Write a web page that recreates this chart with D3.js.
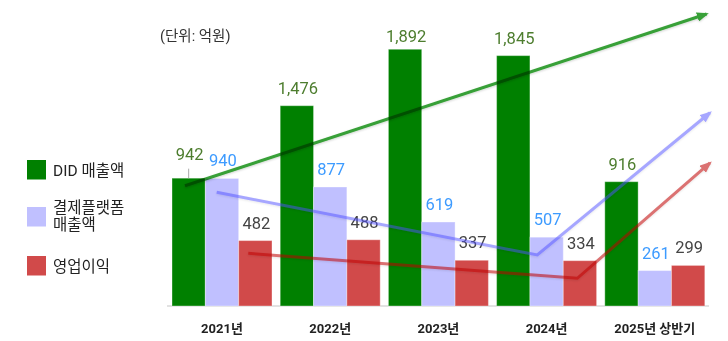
<!DOCTYPE html>
<html lang="ko">
<head>
<meta charset="utf-8">
<script src="https://cdn.jsdelivr.net/npm/d3@7"></script>
<style>
  html, body { margin: 0; padding: 0; background: #fff; }
  svg { display: block; font-family: Roboto, "Noto Sans CJK KR", "Noto Sans", sans-serif; }
</style>
</head>
<body>
<svg id="chart" width="728" height="341"></svg>
<script>
// Yearly figures (unit: 100M KRW)
const categories = ["2021년", "2022년", "2023년", "2024년", "2025년 상반기"];
const seriesNames = ["DID 매출액", "결제플랫폼 매출액", "영업이익"];
const didSales = [942, 1476, 1892, 1845, 916];
const paymentSales = [940, 877, 619, 507, 261];
const operatingProfit = [482, 488, 337, 334, 299];
const unitLabel = "(단위: 억원)";

// Trend arrows: pos = position in group steps from the first group, v = value
const didTrend = [{ pos: 0.12, v: 886 }, { pos: 4.94, v: 2152 }];
const paymentTrend = [{ pos: 0.413, v: 838 }, { pos: 3.376, v: 376 }, { pos: 4.972, v: 1424 }];
const profitTrend = [{ pos: 0.705, v: 388 }, { pos: 3.746, v: 204 }, { pos: 4.972, v: 1054 }];

const seriesValues = [didSales, paymentSales, operatingProfit];
const barColors = ["#008000", "#c0c0ff", "#d14a4a"];
const labelColors = ["#4d7d2e", "#3d9bff", "#444444"];

const svg = d3.select("#chart");

const x = d3.scaleBand().domain(categories).range([172, 704.8]).paddingInner(0.0758).paddingOuter(0);
const xSeries = d3.scaleBand().domain(d3.range(seriesNames.length)).range([0, x.bandwidth()]).padding(0);
const y = d3.scaleLinear().domain([0, 2000]).range([306, 34.6]);
const xPos = p => x(categories[0]) + p * x.step();

// Baseline
svg.append("line")
  .attr("x1", 167).attr("x2", 709)
  .attr("y1", y(0)).attr("y2", y(0))
  .attr("stroke", "#d9d9d9").attr("stroke-width", 1.5);

// Bars
const groups = svg.selectAll("g.group")
  .data(categories)
  .join("g").attr("class", "group")
  .attr("transform", d => `translate(${x(d)},0)`);

groups.selectAll("rect")
  .data((c, i) => seriesValues.map((vals, s) => ({ s, v: vals[i] })))
  .join("rect")
  .attr("x", d => xSeries(d.s))
  .attr("width", xSeries.bandwidth())
  .attr("y", d => y(d.v))
  .attr("height", d => y(0) - y(d.v))
  .attr("fill", d => barColors[d.s])
  .attr("stroke", "rgba(255,255,255,0.35)")
  .attr("stroke-width", 1);

// Value labels (kept below the top edge; nudged up when a neighbour has nearly the same height)
const fmt = d3.format(",");
const labelGap = 12;
const labelTop = 42;
groups.each(function (c, i) {
  const g = d3.select(this);
  seriesValues.forEach((vals, s) => {
    const v = vals[i];
    let by = Math.max(y(v) - labelGap, labelTop);
    const next = seriesValues[s + 1];
    let lifted = false;
    if (next && Math.abs(next[i] - v) / v < 0.01) { by -= 6; lifted = true; }
    const cx = xSeries(s) + xSeries.bandwidth() / 2;
    if (lifted) {
      g.append("line")
        .attr("x1", cx).attr("x2", cx)
        .attr("y1", by + 8.5).attr("y2", y(v))
        .attr("stroke", "#aaaaaa").attr("stroke-width", 1);
    }
    g.append("text")
      .attr("x", cx + 1).attr("y", by)
      .attr("text-anchor", "middle")
      .attr("font-size", 16.5)
      .attr("fill", labelColors[s])
      .text(fmt(v));
  });
});

// Category labels
svg.selectAll("text.cat")
  .data(categories)
  .join("text").attr("class", "cat")
  .attr("x", d => x(d) + x.bandwidth() / 2)
  .attr("y", 332.5)
  .attr("text-anchor", "middle")
  .attr("font-size", 13)
  .attr("font-weight", "bold")
  .attr("fill", "#222")
  .text(d => d);

// Unit label
svg.append("text")
  .attr("x", 160).attr("y", 41)
  .attr("font-size", 14.5)
  .attr("fill", "#333")
  .text(unitLabel);

// Trend arrows
const defs = svg.append("defs");
defs.append("filter").attr("id", "soft")
  .attr("x", "-5%").attr("y", "-20%").attr("width", "110%").attr("height", "140%")
  .append("feDropShadow")
  .attr("dx", 0).attr("dy", 1).attr("stdDeviation", 1)
  .attr("flood-color", "#000").attr("flood-opacity", 0.18);

const trends = [
  { pts: didTrend, color: "rgb(55,160,55)", blend: "multiply", opacity: 1, id: "arrowDid" },
  { pts: paymentTrend, color: "rgb(80,80,255)", blend: "normal", opacity: 0.5, id: "arrowPay" },
  { pts: profitTrend, color: "rgb(190,0,0)", blend: "normal", opacity: 0.55, id: "arrowProfit" }
];

trends.forEach(t => {
  defs.append("marker")
    .attr("id", t.id)
    .attr("viewBox", "0 0 10 8")
    .attr("refX", 8).attr("refY", 4)
    .attr("markerWidth", 12).attr("markerHeight", 9.6)
    .attr("markerUnits", "userSpaceOnUse")
    .attr("orient", "auto")
    .append("path")
    .attr("d", "M0,0 L10,4 L0,8 Z")
    .attr("fill", t.color);
});

const line = d3.line().x(d => xPos(d.pos)).y(d => y(d.v));
trends.forEach(t => {
  svg.append("path")
    .datum(t.pts)
    .attr("d", line)
    .attr("fill", "none")
    .attr("stroke", t.color)
    .attr("stroke-width", 3)
    .attr("stroke-linejoin", "miter")
    .attr("opacity", t.opacity)
    .attr("marker-end", `url(#${t.id})`)
    .attr("filter", "url(#soft)")
    .style("mix-blend-mode", t.blend);
});

// Legend
const legend = svg.append("g");
const legendItems = [
  { s: 0, top: 160, lines: ["DID 매출액"], base: 175.5 },
  { s: 1, top: 207, lines: ["결제플랫폼", "매출액"], base: 212.5 },
  { s: 2, top: 256, lines: ["영업이익"], base: 272 }
];
legendItems.forEach(it => {
  legend.append("rect")
    .attr("x", 27).attr("y", it.top)
    .attr("width", 19).attr("height", 19.5)
    .attr("fill", barColors[it.s]);
  const t = legend.append("text")
    .attr("x", 53).attr("y", it.base)
    .attr("font-size", 15.5)
    .attr("fill", "#222");
  it.lines.forEach((ln, k) => {
    t.append("tspan").attr("x", 53).attr("dy", k === 0 ? 0 : 17.5).text(ln);
  });
});
</script>
</body>
</html>
